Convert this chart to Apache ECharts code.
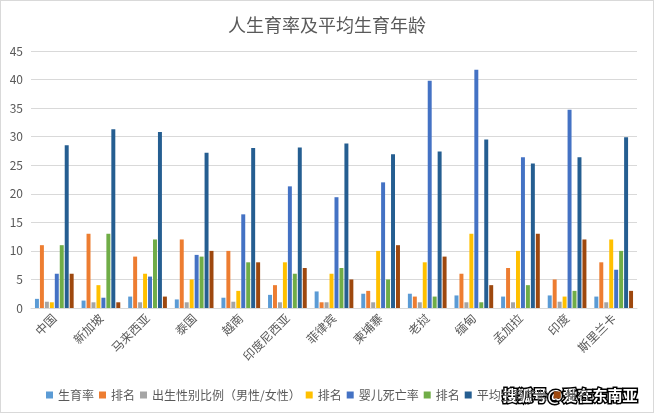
<!DOCTYPE html>
<html><head><meta charset="utf-8">
<script src="https://cdn.jsdelivr.net/npm/echarts@6/dist/echarts.min.js"></script>
<style>html,body{margin:0;padding:0;background:#fff}#c{width:654px;height:413px;box-sizing:border-box;border:1px solid #d9d9d9}</style>
</head><body><div id="c"></div>
<script>
const categories = ['中国','新加坡','马来西亚','泰国','越南','印度尼西亚','菲律宾','柬埔寨','老挝','缅甸','孟加拉','印度','斯里兰卡'];
const seriesNames = ['生育率','排名','出生性别比例（男性/女性）','排名','婴儿死亡率','排名','平均生育年龄','排名'];
const fertility      = [1.6, 1.3, 2.0, 1.5, 1.8, 2.3, 2.9, 2.5, 2.5, 2.2, 2.0, 2.2, 2.0];
const fertilityRank  = [11, 13, 9, 12, 10, 4, 1, 3, 2, 6, 7, 5, 8];
const sexRatio       = [1.1, 1.0, 1.0, 1.0, 1.1, 1.0, 1.0, 1.0, 1.0, 1.0, 1.0, 1.1, 1.0];
const sexRatioRank   = [1, 4, 6, 5, 3, 8, 6, 10, 8, 13, 10, 2, 12];
const infantMort     = [6.0, 1.8, 5.5, 9.3, 16.4, 21.3, 19.4, 22.0, 39.8, 41.7, 26.4, 34.7, 6.7];
const infantRank     = [11, 13, 12, 9, 8, 6, 7, 5, 2, 1, 4, 3, 10];
const avgAge         = [28.5, 31.3, 30.8, 27.2, 28.0, 28.1, 28.8, 26.9, 27.4, 29.5, 25.3, 26.4, 29.9];
const avgAgeRank     = [6, 1, 2, 10, 8, 7, 5, 11, 9, 4, 13, 12, 3];
const yTicks = [0, 5, 10, 15, 20, 25, 30, 35, 40, 45];
const colors = ['#5B9BD5','#ED7D31','#A5A5A5','#FFC000','#4472C4','#70AD47','#255E91','#9E480E'];
const allData = [fertility, fertilityRank, sexRatio, sexRatioRank, infantMort, infantRank, avgAge, avgAgeRank];

const chart = echarts.init(document.getElementById('c'));
const txt = '#595959';
const ff = '"Noto Sans CJK SC", "Noto Sans", sans-serif';
chart.setOption({
  animation: false,
  color: colors,
  title: { text: '人生育率及平均生育年龄', left: 'center', top: 10,
    textStyle: { color: txt, fontSize: 18, fontWeight: 'normal', fontFamily: ff } },
  grid: { left: 30, right: 16, top: 50, bottom: 104, containLabel: false },
  legend: { left: 40, top: 383, itemWidth: 7, itemHeight: 7, itemGap: 5, icon: 'rect',
    textStyle: { color: txt, fontSize: 12, fontFamily: ff },
    data: seriesNames.map((n, i) => ({ name: n + '\u200b'.repeat(i) })) },
  xAxis: { type: 'category', data: categories,
    axisLine: { lineStyle: { color: '#d9d9d9' } }, axisTick: { show: false },
    axisLabel: { rotate: 45, interval: 0, color: txt, fontSize: 12, fontFamily: ff, margin: 8 } },
  yAxis: { type: 'value', min: yTicks[0], max: yTicks[yTicks.length - 1], interval: 5,
    axisLine: { show: false }, axisTick: { show: false },
    axisLabel: { color: txt, fontSize: 12, fontFamily: ff, margin: 8 },
    splitLine: { lineStyle: { color: '#d9d9d9' } } },
  series: allData.map((d, i) => ({
    name: seriesNames[i] + '\u200b'.repeat(i), type: 'bar', data: d,
    barGap: '25%', barCategoryGap: '17%'
  })),
  graphic: [{ type: 'text', left: 500, top: 385,
    style: { text: '搜狐号@爱在东南亚', fontSize: 15, fontWeight: 'bold', fontFamily: ff,
      fill: '#fff', stroke: '#000', lineWidth: 3 } }]
});
</script></body></html>
